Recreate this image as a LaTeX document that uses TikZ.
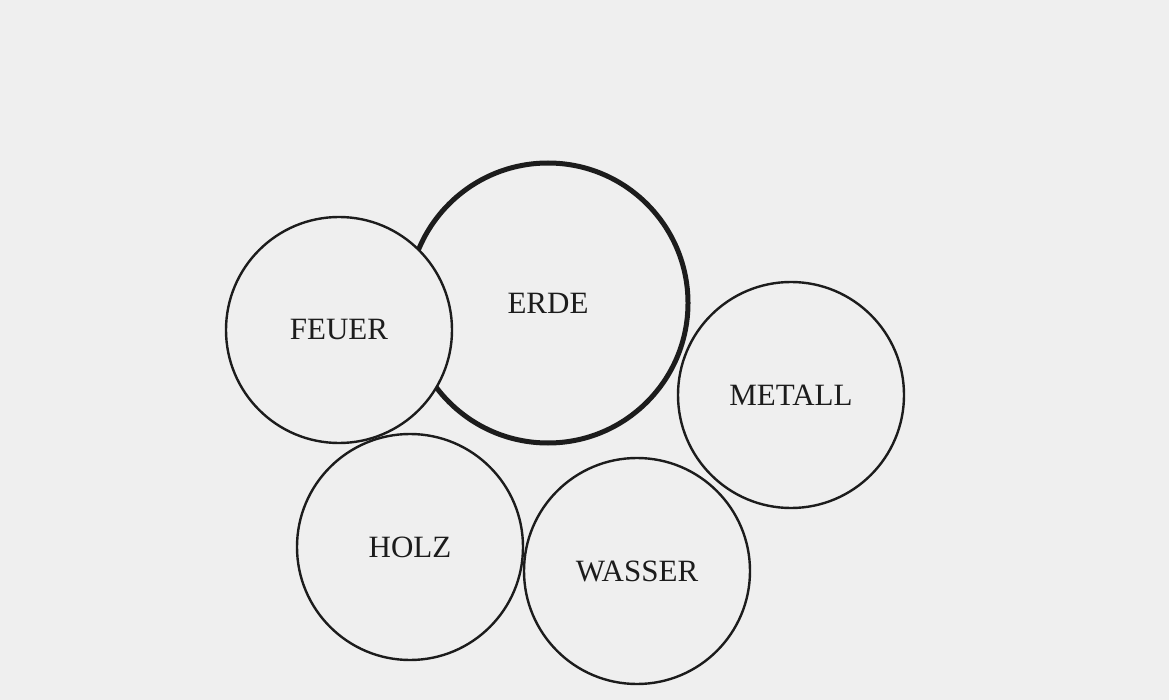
\documentclass[tikz,border=0pt]{standalone}
\usepackage{fontspec}
\setmainfont{Liberation Serif}
\definecolor{paper}{HTML}{EFEFEF}
\definecolor{ink}{HTML}{1C1C1C}
\tikzset{
  x=1pt, y=-1pt,
  elem/.style={circle, draw=ink, line width=2.4pt, inner sep=0pt, minimum size=226pt,
    text=ink, font=\fontsize{31}{31}\selectfont},
  bigelem/.style={elem, line width=5pt, minimum size=280pt},
}
\begin{document}
\begin{tikzpicture}
\fill[paper] (0,0) rectangle (1169,700);
\useasboundingbox (0,0) rectangle (1169,700);
\node[bigelem] (erde) at (548,303) {ERDE};
\node[elem, fill=paper] (feuer) at (339,330) {FEUER};
\node[elem] (metall) at (791,395) {METALL};
\node[elem] (holz) at (410,547) {HOLZ};
\node[elem] (wasser) at (637,571) {WASSER};
\end{tikzpicture}
\end{document}
